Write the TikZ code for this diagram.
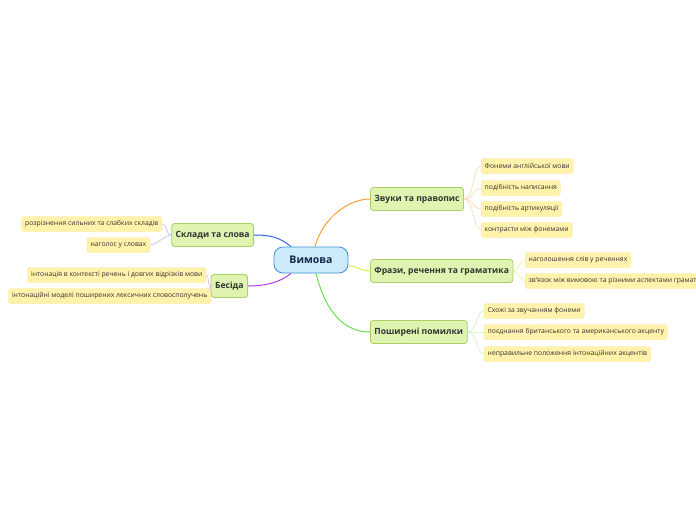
\documentclass[tikz,border=0pt]{standalone}
\usepackage{fontspec}
\setmainfont{Open Sans}
\usetikzlibrary{positioning}
\definecolor{rootfill}{HTML}{CDEBFB}
\definecolor{rootdraw}{HTML}{3F8FD2}
\definecolor{rootink}{HTML}{13294B}
\definecolor{topicfill}{HTML}{DEF4B0}
\definecolor{topicdraw}{HTML}{A8D062}
\definecolor{leaffill}{HTML}{FFF2AA}
\definecolor{leafdraw}{HTML}{FCE89A}
\definecolor{ink}{HTML}{333333}
\definecolor{brorange}{HTML}{F7A035}
\definecolor{bryellow}{HTML}{D9EE3C}
\definecolor{brgreen}{HTML}{66E048}
\definecolor{brblue}{HTML}{2E68E8}
\definecolor{brpurple}{HTML}{B23DE6}

\begin{document}
\begin{tikzpicture}[x=1pt, y=-1pt,
  root/.style={draw=rootdraw, fill=rootfill, rounded corners=9pt, line width=0.8pt, minimum width=74pt, minimum height=26pt, font=\fontsize{10.5}{12}\selectfont\bfseries, text=rootink},
  topic/.style={draw=topicdraw, fill=topicfill, rounded corners=3pt, line width=0.8pt, minimum height=23pt, inner xsep=4pt, font=\fontsize{8.6}{10}\selectfont\bfseries, text=ink},
  leaf/.style={draw=leafdraw, fill=leaffill, rounded corners=2.5pt, line width=0.4pt, minimum height=15pt, inner xsep=3.5pt, inner ysep=1pt, font=\fontsize{6.8}{8}\selectfont, text=ink},
  link/.style={line width=1pt},
  twig/.style={line width=0.5pt}
]
\clip (0,0) rectangle (696,520);
\fill[white] (0,0) rectangle (696,520);

% root
\node[root] (vym) at (311,260) {Вимова};

% main topics
\node[topic, anchor=west] (zvuky) at (370,199) {Звуки та правопис};
\node[topic, anchor=west] (frazy) at (370,271) {Фрази, речення та граматика};
\node[topic, anchor=west] (pomylky) at (370,332) {Поширені помилки};
\node[topic, anchor=east] (sklady) at (254,235) {Склади та слова};
\node[topic, anchor=east] (besida) at (248,286) {Бесіда};

% leaves
\node[leaf, anchor=west] (z1) at (481,166) {Фонеми англійської мови};
\node[leaf, anchor=west] (z2) at (481,188) {подібність написання};
\node[leaf, anchor=west] (z3) at (481,209) {подібність артикуляції};
\node[leaf, anchor=west] (z4) at (481,230) {контрасти між фонемами};

\node[leaf, anchor=west] (f1) at (525,260) {наголошення слів у реченнях};
\node[leaf, anchor=west] (f2) at (525,281) {зв'язок між вимовою та різними аспектами граматики};

\node[leaf, anchor=west] (p1) at (484,311) {Схожі за звучанням фонеми};
\node[leaf, anchor=west] (p2) at (484,332) {поєднання британського та американського акценту};
\node[leaf, anchor=west] (p3) at (484,354) {неправильне положення інтонаційних акцентів};

\node[leaf, anchor=east] (s1) at (162,224) {розрізнення сильних та слабких складів};
\node[leaf, anchor=east] (s2) at (150,245) {наголос у словах};

\node[leaf, anchor=east] (b1) at (206,275) {інтонація в контексті речень і довгих відрізків мови};
\node[leaf, anchor=east] (b2) at (211,296) {інтонаційні моделі поширених лексичних словосполучень};

% branches
\draw[link, brorange] ([xshift=4pt]vym.north) .. controls +(8,-30) and +(-20,0) .. (zvuky.west);
\draw[link, bryellow] ([yshift=-6pt]vym.east) .. controls +(10,0) and +(-10,0) .. (frazy.west);
\draw[link, brgreen] ([xshift=5pt]vym.south) .. controls +(10,40) and +(-25,0) .. (pomylky.west);
\draw[link, brblue] ([xshift=-20pt]vym.north) .. controls +(-12,-10) and +(15,0) .. (sklady.east);
\draw[link, brpurple] ([xshift=-20pt]vym.south) .. controls +(-12,10) and +(15,0) .. (besida.east);

% twigs
\foreach \leafname in {z1,z2,z3,z4}
  \draw[twig, brorange!45] (zvuky.east) .. controls +(10,0) and +(-8,0) .. (\leafname.west);
\foreach \leafname in {f1,f2}
  \draw[twig, bryellow!70] (frazy.east) .. controls +(5,0) and +(-5,0) .. (\leafname.west);
\foreach \leafname in {p1,p2,p3}
  \draw[twig, brgreen!40] (pomylky.east) .. controls +(10,0) and +(-8,0) .. (\leafname.west);
\foreach \leafname in {s1,s2}
  \draw[twig, brblue!45] (sklady.west) .. controls +(-6,0) and +(6,0) .. (\leafname.east);
\foreach \leafname in {b1,b2}
  \draw[twig, brpurple!45] (besida.west) .. controls +(-4,0) and +(4,0) .. (\leafname.east);
\end{tikzpicture}
\end{document}
